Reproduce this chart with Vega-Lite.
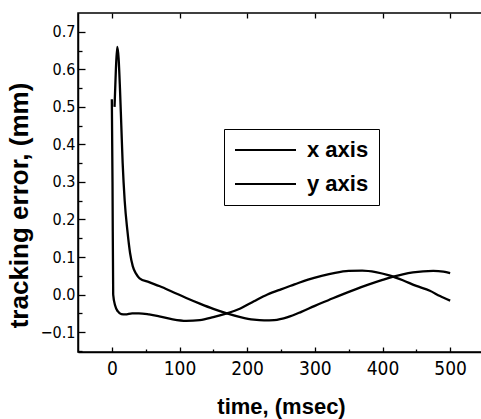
{
  "$schema": "https://vega.github.io/schema/vega-lite/v6.json",
  "width": 406,
  "height": 339,
  "autosize": "none",
  "padding": {"left": 78, "top": 13, "right": 0, "bottom": 67},
  "background": "white",
  "config": {
    "view": {"stroke": "black", "strokeWidth": 1.5},
    "axis": {
      "grid": false,
      "domainColor": "black",
      "domainWidth": 1.5,
      "tickColor": "black",
      "tickWidth": 1.3,
      "labelColor": "black",
      "titleColor": "black",
      "labelFont": "Liberation Sans Narrow, DejaVu Sans Condensed, Arial Narrow, sans-serif",
      "titleFont": "Liberation Sans, Arial, sans-serif",
      "titleFontWeight": "bold"
    }
  },
  "datasets": {
    "curves": [
      {"t": 0, "err": 0.52, "axis": "x axis"},
      {"t": 1, "err": 0.30, "axis": "x axis"},
      {"t": 2, "err": 0.0, "axis": "x axis"},
      {"t": 5, "err": -0.03, "axis": "x axis"},
      {"t": 9, "err": -0.045, "axis": "x axis"},
      {"t": 14, "err": -0.052, "axis": "x axis"},
      {"t": 20, "err": -0.053, "axis": "x axis"},
      {"t": 30, "err": -0.05, "axis": "x axis"},
      {"t": 40, "err": -0.05, "axis": "x axis"},
      {"t": 55, "err": -0.053, "axis": "x axis"},
      {"t": 70, "err": -0.058, "axis": "x axis"},
      {"t": 90, "err": -0.066, "axis": "x axis"},
      {"t": 110, "err": -0.07, "axis": "x axis"},
      {"t": 130, "err": -0.068, "axis": "x axis"},
      {"t": 150, "err": -0.06, "axis": "x axis"},
      {"t": 170, "err": -0.05, "axis": "x axis"},
      {"t": 190, "err": -0.037, "axis": "x axis"},
      {"t": 210, "err": -0.018, "axis": "x axis"},
      {"t": 230, "err": 0.0, "axis": "x axis"},
      {"t": 250, "err": 0.014, "axis": "x axis"},
      {"t": 270, "err": 0.027, "axis": "x axis"},
      {"t": 290, "err": 0.04, "axis": "x axis"},
      {"t": 310, "err": 0.05, "axis": "x axis"},
      {"t": 330, "err": 0.058, "axis": "x axis"},
      {"t": 350, "err": 0.063, "axis": "x axis"},
      {"t": 370, "err": 0.064, "axis": "x axis"},
      {"t": 390, "err": 0.06, "axis": "x axis"},
      {"t": 410, "err": 0.051, "axis": "x axis"},
      {"t": 430, "err": 0.038, "axis": "x axis"},
      {"t": 450, "err": 0.023, "axis": "x axis"},
      {"t": 470, "err": 0.01, "axis": "x axis"},
      {"t": 485, "err": -0.004, "axis": "x axis"},
      {"t": 500, "err": -0.016, "axis": "x axis"},
      {"t": 4, "err": 0.50, "axis": "y axis"},
      {"t": 6, "err": 0.60, "axis": "y axis"},
      {"t": 8, "err": 0.66, "axis": "y axis"},
      {"t": 10, "err": 0.63, "axis": "y axis"},
      {"t": 12, "err": 0.55, "axis": "y axis"},
      {"t": 14, "err": 0.45, "axis": "y axis"},
      {"t": 16, "err": 0.35, "axis": "y axis"},
      {"t": 19, "err": 0.25, "axis": "y axis"},
      {"t": 23, "err": 0.17, "axis": "y axis"},
      {"t": 27, "err": 0.11, "axis": "y axis"},
      {"t": 31, "err": 0.075, "axis": "y axis"},
      {"t": 36, "err": 0.055, "axis": "y axis"},
      {"t": 41, "err": 0.043, "axis": "y axis"},
      {"t": 55, "err": 0.033, "axis": "y axis"},
      {"t": 71, "err": 0.022, "axis": "y axis"},
      {"t": 90, "err": 0.007, "axis": "y axis"},
      {"t": 110, "err": -0.009, "axis": "y axis"},
      {"t": 130, "err": -0.024, "axis": "y axis"},
      {"t": 150, "err": -0.038, "axis": "y axis"},
      {"t": 170, "err": -0.05, "axis": "y axis"},
      {"t": 190, "err": -0.06, "axis": "y axis"},
      {"t": 210, "err": -0.067, "axis": "y axis"},
      {"t": 225, "err": -0.069, "axis": "y axis"},
      {"t": 240, "err": -0.068, "axis": "y axis"},
      {"t": 260, "err": -0.06, "axis": "y axis"},
      {"t": 280, "err": -0.046, "axis": "y axis"},
      {"t": 300, "err": -0.03, "axis": "y axis"},
      {"t": 320, "err": -0.015, "axis": "y axis"},
      {"t": 340, "err": 0.0, "axis": "y axis"},
      {"t": 360, "err": 0.014, "axis": "y axis"},
      {"t": 380, "err": 0.027, "axis": "y axis"},
      {"t": 400, "err": 0.039, "axis": "y axis"},
      {"t": 416, "err": 0.048, "axis": "y axis"},
      {"t": 430, "err": 0.054, "axis": "y axis"},
      {"t": 445, "err": 0.059, "axis": "y axis"},
      {"t": 460, "err": 0.062, "axis": "y axis"},
      {"t": 475, "err": 0.063, "axis": "y axis"},
      {"t": 490, "err": 0.061, "axis": "y axis"},
      {"t": 500, "err": 0.057, "axis": "y axis"}
    ]
  },
  "data": {"name": "curves"},
  "layer": [
    {
      "mark": {"type": "line", "strokeWidth": 2.3, "interpolate": "monotone"},
      "encoding": {
        "x": {
          "field": "t", "type": "quantitative",
          "scale": {"domain": [-50, 550], "nice": false, "zero": false},
          "axis": {
            "orient": "bottom",
            "title": "time, (msec)",
            "titleFontSize": 22,
            "titlePadding": 18,
            "values": [0, 50, 100, 150, 200, 250, 300, 350, 400, 450, 500],
            "labelExpr": "datum.value % 100 === 0 ? datum.label : ''",
            "labelFontSize": 19,
            "labelPadding": 12,
            "tickSize": {"condition": {"test": "datum.value % 100 === 0", "value": -5}, "value": -3}
          }
        },
        "y": {
          "field": "err", "type": "quantitative",
          "scale": {"domain": [-0.153, 0.75], "nice": false, "zero": false},
          "axis": {
            "orient": "left",
            "title": "tracking error, (mm)",
            "titleFontSize": 26,
            "titlePadding": 8,
            "titleY": 192,
            "values": [-0.15, -0.1, -0.05, 0, 0.05, 0.1, 0.15, 0.2, 0.25, 0.3, 0.35, 0.4, 0.45, 0.5, 0.55, 0.6, 0.65, 0.7],
            "labelExpr": "round(datum.value * 100) % 10 === 0 ? format(datum.value, '.1f') : ''",
            "labelFontSize": 16,
            "labelPadding": 10,
            "tickSize": {"condition": {"test": "round(datum.value * 100) % 10 === 0", "value": -7}, "value": -4}
          }
        },
        "color": {
          "field": "axis", "type": "nominal",
          "scale": {"domain": ["x axis", "y axis"], "range": ["black", "black"]},
          "legend": {
            "orient": "none",
            "legendX": 146,
            "legendY": 116,
            "title": null,
            "direction": "vertical",
            "strokeColor": "black",
            "padding": 10,
            "symbolType": "M-1,0H5.1",
            "symbolSize": 400,
            "symbolStrokeWidth": 2,
            "symbolStrokeColor": "black",
            "symbolFillColor": "transparent",
            "labelOffset": 51,
            "labelFont": "Liberation Sans, Arial, sans-serif",
            "labelFontWeight": "bold",
            "labelFontSize": 22,
            "labelColor": "black",
            "rowPadding": 12
          }
        }
      }
    },
    {
      "mark": {"type": "line", "opacity": 0},
      "encoding": {
        "x": {
          "field": "t", "type": "quantitative",
          "axis": {
            "orient": "top",
            "title": null,
            "labels": false,
            "domain": false,
            "values": [0, 100, 200, 300, 400, 500],
            "tickSize": -5
          }
        },
        "y": {"field": "err", "type": "quantitative", "axis": null},
        "detail": {"field": "axis"}
      }
    }
  ],
  "resolve": {"axis": {"x": "independent", "y": "independent"}}
}
